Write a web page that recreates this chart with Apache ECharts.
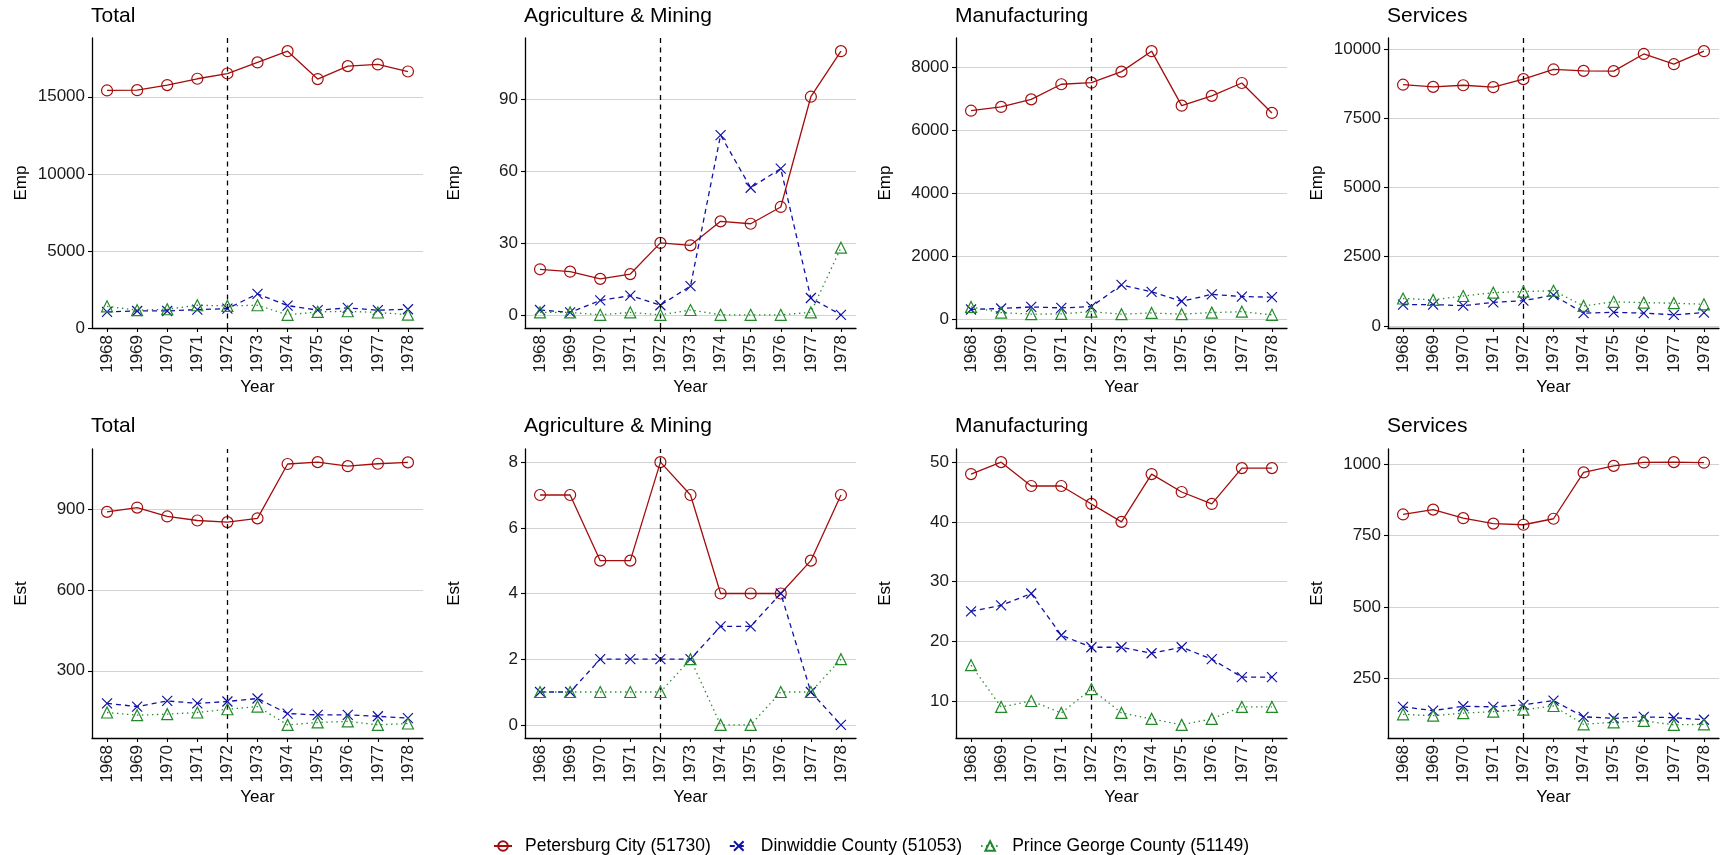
<!DOCTYPE html>
<html>
<head>
<meta charset="utf-8">
<script src="https://cdn.jsdelivr.net/npm/echarts@6/dist/echarts.min.js"></script>
<style>
html,body{margin:0;padding:0;background:#fff;}
#chart{width:1721px;height:855px;}
</style>
</head>
<body>
<div id="chart"></div>
<script>
// ---------- data ----------
const years = ['1968','1969','1970','1971','1972','1973','1974','1975','1976','1977','1978'];
const countyNames = ['Petersburg City (51730)', 'Dinwiddie County (51053)', 'Prince George County (51149)'];
const sectorTitles = ['Total', 'Agriculture & Mining', 'Manufacturing', 'Services'];
const rowMeasures = ['Emp', 'Est'];
const policyYear = '1972';

// Employment
const empTotalPetersburg = [15410, 15430, 15760, 16170, 16510, 17230, 17960, 16150, 16990, 17100, 16640];
const empTotalDinwiddie  = [1040, 1100, 1100, 1190, 1250, 2210, 1450, 1150, 1300, 1150, 1210];
const empTotalPrince     = [1400, 1150, 1210, 1470, 1430, 1470, 850, 1040, 1080, 1000, 860];

const empAgriPetersburg = [19, 18, 15, 17, 30, 29, 39, 38, 45, 91, 110];
const empAgriDinwiddie  = [2, 1, 6, 8, 4, 12, 75, 53, 61, 7, 0];
const empAgriPrince     = [1, 1, 0, 1, 0, 2, 0, 0, 0, 1, 28];

const empMfgPetersburg = [6610, 6730, 6970, 7450, 7500, 7850, 8500, 6770, 7080, 7490, 6540];
const empMfgDinwiddie  = [300, 330, 380, 350, 390, 1080, 860, 560, 780, 710, 690];
const empMfgPrince     = [380, 200, 150, 160, 230, 150, 190, 150, 200, 230, 130];

const empSvcPetersburg = [8710, 8630, 8690, 8620, 8910, 9260, 9210, 9200, 9820, 9450, 9920];
const empSvcDinwiddie  = [770, 770, 730, 850, 910, 1110, 460, 490, 460, 400, 480];
const empSvcPrince     = [990, 940, 1080, 1200, 1240, 1270, 720, 870, 840, 820, 780];

// Establishments
const estTotalPetersburg = [891, 907, 874, 859, 853, 867, 1069, 1076, 1061, 1070, 1075];
const estTotalDinwiddie  = [179, 167, 188, 179, 186, 197, 141, 136, 136, 131, 124];
const estTotalPrince     = [145, 135, 139, 145, 157, 167, 99, 108, 112, 99, 104];

const estAgriPetersburg = [7, 7, 5, 5, 8, 7, 4, 4, 4, 5, 7];
const estAgriDinwiddie  = [1, 1, 2, 2, 2, 2, 3, 3, 4, 1, 0];
const estAgriPrince     = [1, 1, 1, 1, 1, 2, 0, 0, 1, 1, 2];

const estMfgPetersburg = [48, 50, 46, 46, 43, 40, 48, 45, 43, 49, 49];
const estMfgDinwiddie  = [25, 26, 28, 21, 19, 19, 18, 19, 17, 14, 14];
const estMfgPrince     = [16, 9, 10, 8, 12, 8, 7, 6, 7, 9, 9];

const estSvcPetersburg = [824, 841, 811, 792, 788, 809, 971, 994, 1006, 1007, 1005];
const estSvcDinwiddie  = [151, 138, 153, 151, 158, 173, 116, 111, 116, 113, 106];
const estSvcPrince     = [125, 120, 129, 134, 141, 154, 90, 97, 102, 88, 90];

// Tick labels per panel
const ticksEmpTotal = [0, 5000, 10000, 15000];
const ticksEmpAgri  = [0, 30, 60, 90];
const ticksEmpMfg   = [0, 2000, 4000, 6000, 8000];
const ticksEmpSvc   = [0, 2500, 5000, 7500, 10000];
const ticksEstTotal = [300, 600, 900];
const ticksEstAgri  = [0, 2, 4, 6, 8];
const ticksEstMfg   = [10, 20, 30, 40, 50];
const ticksEstSvc   = [250, 500, 750, 1000];

// ---------- build ----------
const panels = [
  {row:0, col:0, data:[empTotalPetersburg, empTotalDinwiddie, empTotalPrince], ticks:ticksEmpTotal},
  {row:0, col:1, data:[empAgriPetersburg, empAgriDinwiddie, empAgriPrince], ticks:ticksEmpAgri},
  {row:0, col:2, data:[empMfgPetersburg, empMfgDinwiddie, empMfgPrince], ticks:ticksEmpMfg},
  {row:0, col:3, data:[empSvcPetersburg, empSvcDinwiddie, empSvcPrince], ticks:ticksEmpSvc},
  {row:1, col:0, data:[estTotalPetersburg, estTotalDinwiddie, estTotalPrince], ticks:ticksEstTotal},
  {row:1, col:1, data:[estAgriPetersburg, estAgriDinwiddie, estAgriPrince], ticks:ticksEstAgri},
  {row:1, col:2, data:[estMfgPetersburg, estMfgDinwiddie, estMfgPrince], ticks:ticksEstMfg},
  {row:1, col:3, data:[estSvcPetersburg, estSvcDinwiddie, estSvcPrince], ticks:ticksEstSvc}
];

const FONT = '"Liberation Sans", Arial, Helvetica, sans-serif';
const colors = ['#a30d0d', '#1111a6', '#23892a'];
const lineTypes = ['solid', [5, 4], [1.4, 3.6]];
const symbols = ['circle', 'path://M0,0L10,10M0,10L10,0', 'triangle'];
const symbolSizes = [11, 10, 11];

const colLeft = [92, 525, 956, 1388];
const plotW = 331;
const rowTop = [38, 449];
const plotH = [290, 289];
const titleTop = [6, 416];

const grids = [], xAxes = [], yAxes = [], series = [], titles = [];

panels.forEach((p, i) => {
  grids.push({left: colLeft[p.col], top: rowTop[p.row], width: plotW, height: plotH[p.row], containLabel: false});
  titles.push({
    text: sectorTitles[p.col], left: colLeft[p.col] - 1, top: titleTop[p.row], padding: 0,
    textStyle: {fontFamily: FONT, fontSize: 21, fontWeight: 'normal', color: '#000'}
  });
  // ggplot-like 5% expansion of the data range
  const all = [].concat(...p.data);
  const lo = Math.min(...all), hi = Math.max(...all);
  const pad = (hi - lo) * 0.05;
  xAxes.push({
    type: 'category', gridIndex: i, data: years, boundaryGap: true,
    axisLine: {show: true, onZero: false, lineStyle: {color: '#000', width: 1.3}},
    axisTick: {show: true, alignWithLabel: true, length: 4, lineStyle: {color: '#000', width: 1.1}},
    axisLabel: {rotate: 90, interval: 0, margin: 7, fontSize: 17, fontFamily: FONT, color: '#1a1a1a'},
    splitLine: {show: false},
    name: 'Year', nameLocation: 'middle', nameGap: 51,
    nameTextStyle: {fontFamily: FONT, fontSize: 17, color: '#000'}
  });
  yAxes.push({
    type: 'value', gridIndex: i, min: lo - pad, max: hi + pad,
    axisLine: {show: true, onZero: false, lineStyle: {color: '#000', width: 1.3}},
    axisTick: {show: true, length: 4, customValues: p.ticks, lineStyle: {color: '#000', width: 1.1}},
    axisLabel: {customValues: p.ticks, margin: 7, fontSize: 17, fontFamily: FONT, color: '#1a1a1a',
                formatter: v => String(v)},
    splitLine: {show: true, lineStyle: {color: '#d2d2d2', width: 1}},
    name: rowMeasures[p.row], nameLocation: 'middle', nameRotate: 90, nameGap: 62,
    nameTextStyle: {fontFamily: FONT, fontSize: 17, color: '#000'}
  });
  p.data.forEach((vals, k) => {
    const s = {
      name: countyNames[k], type: 'line', xAxisIndex: i, yAxisIndex: i,
      data: vals, symbol: symbols[k], symbolSize: symbolSizes[k], showSymbol: true,
      lineStyle: {color: colors[k], width: 1.3, type: lineTypes[k]},
      itemStyle: {color: 'transparent', borderColor: colors[k], borderWidth: 1.2},
      emphasis: {disabled: true}, silent: true, animation: false, z: 3 + k
    };
    if (k === 0) {
      s.markLine = {
        silent: true, symbol: 'none', animation: false,
        label: {show: false},
        lineStyle: {color: '#000', width: 1.3, type: [5, 4.5]},
        data: [{xAxis: policyYear}]
      };
    }
    series.push(s);
  });
});

const chart = echarts.init(document.getElementById('chart'), null, {renderer: 'canvas'});
chart.setOption({
  animation: false,
  backgroundColor: '#fff',
  textStyle: {fontFamily: FONT},
  title: titles,
  grid: grids,
  xAxis: xAxes,
  yAxis: yAxes,
  legend: {
    data: countyNames, left: 488, top: 832, itemWidth: 18, itemHeight: 12, itemGap: 18,
    textStyle: {fontFamily: FONT, fontSize: 17.5, color: '#000', padding: [0, 0, 0, 8]},
    selectedMode: false
  },
  series: series
});
</script>
</body>
</html>
